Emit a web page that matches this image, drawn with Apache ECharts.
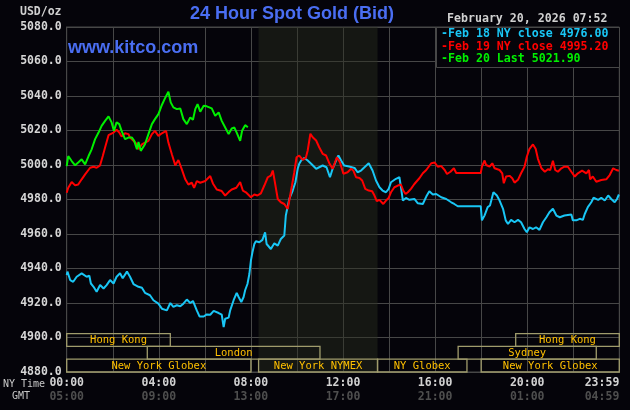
<!DOCTYPE html>
<html>
<head>
<meta charset="utf-8">
<script src="https://cdn.jsdelivr.net/npm/echarts@6/dist/echarts.min.js"></script>
<style>
  html, body { margin: 0; padding: 0; background: #05040a; }
  #chart { width: 630px; height: 410px; }
</style>
</head>
<body>
<div id="chart"></div>
<script>
// series values: [minutes after midnight NY time, price]
const feb18 = [
  [0,4936.2],[2,4938.2],[9,4933.3],[17,4932.3],[26,4935.2],[39,4937.2],[43,4936.2],[52,4935.2],[59,4935.8],[63,4931.3],
  [70,4929.4],[78,4926.5],[87,4930.4],[96,4928.4],[104,4930.4],[113,4933.3],[122,4931.3],[130,4935.2],[139,4937.2],[146,4934.3],
  [157,4938.2],[165,4935.2],[174,4931],[187,4929.4],[196,4928.8],[204,4925.9],[217,4924.5],[226,4921.6],[239,4919.6],[248,4916.7],
  [261,4915.7],[270,4920],[278,4917.7],[287,4918.7],[296,4918.1],[304,4919.6],[313,4922],[322,4920],[329,4921.2],[339,4915.7],
  [346,4912.2],[357,4912.2],[365,4913.4],[374,4913.2],[383,4915.4],[396,4914.2],[404,4913.2],[409,4906],[413,4910.9],[422,4911.5],
  [426,4915.7],[435,4921.6],[443,4925.9],[448,4923.5],[455,4920.6],[461,4923.5],[465,4927.4],[471,4931],[476,4936.8],[480,4944.6],
  [484,4949.4],[489,4954.2],[493,4955.8],[502,4955.2],[510,4956.6],[517,4961],[521,4954.2],[532,4951.3],[541,4954.6],[550,4953.3],
  [558,4957.1],[567,4959.1],[571,4970.7],[580,4980.3],[589,4985.2],[596,4990],[602,4997.8],[606,5000.7],[611,5002.6],[619,5004.1],
  [628,5002.6],[637,5000.7],[650,4997.8],[658,4998.7],[667,4999.7],[677,4998.7],[686,4992.9],[693,4997.8],[702,5002.6],[708,5005.5],
  [715,5002.6],[723,4999.7],[736,4999.1],[750,4998.3],[758,4995.8],[767,4996.8],[776,4998.7],[787,5001],[797,4996.8],[806,4991],
  [815,4987.1],[823,4985.2],[832,4984.2],[839,4986.2],[845,4990],[858,4992],[867,4992.9],[871,4987.1],[876,4979.4],[884,4980.9],
  [893,4979.8],[906,4980.3],[915,4977.8],[928,4977.4],[937,4981.7],[945,4984.8],[954,4982.9],[963,4983.2],[976,4981.3],[989,4980.3],
  [1002,4978.4],[1010,4977.4],[1019,4976.1],[1079,4976.1],[1082,4967.9],[1089,4970.8],[1097,4975.6],[1103,4976.5],[1112,4984.2],[1121,4982.3],
  [1128,4979.4],[1137,4974.6],[1144,4967.9],[1150,4965.8],[1158,4968.2],[1167,4966.8],[1176,4968.2],[1184,4966.8],[1193,4962.9],[1199,4961],
  [1206,4963.9],[1215,4962.9],[1223,4963.9],[1232,4962.4],[1241,4966.8],[1250,4969.7],[1258,4972.6],[1267,4974.6],[1276,4970.7],[1285,4969.7],
  [1297,4970.7],[1315,4971.3],[1319,4967.9],[1328,4967.9],[1337,4968.8],[1345,4968.2],[1350,4971.6],[1358,4975.6],[1367,4978.4],[1373,4981],
  [1385,4979.8],[1393,4981],[1402,4979.4],[1411,4982.3],[1419,4980.3],[1428,4978.4],[1434,4980.3],[1439,4982.9]
];

const feb19 = [
  [0,4983.9],[4,4986.8],[13,4990.1],[22,4988.2],[30,4988.7],[39,4991.7],[48,4994.6],[61,4998.4],[70,4999],[78,4998.4],
  [87,4999.8],[94,5005.2],[100,5010.1],[109,5017.3],[122,5018.8],[130,5020.4],[137,5018.8],[143,5016.5],[152,5018.4],[161,5017.9],
  [165,5015.9],[174,5014],[183,5012],[187,5009.1],[196,5012],[204,5013],[213,5014],[222,5017.9],[230,5019.8],[239,5016.9],
  [248,5018.4],[259,5019.8],[265,5013],[274,5006.2],[283,4999.8],[291,5002.9],[300,4997.5],[309,4991.7],[317,4988.7],[326,4989.7],
  [332,4986.8],[339,4990.7],[348,4989.7],[361,4990.7],[374,4993.6],[381,4989.3],[391,4985.8],[404,4984.9],[413,4982.3],[422,4984.3],
  [430,4985.8],[442,4986.8],[452,4990.1],[459,4985.2],[467,4984.2],[480,4981.3],[489,4982.9],[497,4982.3],[506,4983.6],[515,4988.1],
  [524,4992.9],[532,4993.9],[537,4996.8],[541,4992],[550,4980.3],[558,4978.4],[567,4977.4],[576,4974.6],[580,4979.4],[587,4988.1],
  [593,4995.8],[599,5004.5],[606,5005.5],[615,5003],[623,5004.1],[628,5008.4],[635,5018.1],[641,5016.1],[650,5014.2],[658,5010.3],
  [667,5006.5],[676,5005.5],[685,5000.7],[693,4997.8],[704,5004.5],[712,5001.6],[721,4994.9],[732,4995.8],[741,4997.8],[747,4996.8],
  [754,4992.9],[763,4992.5],[770,4991],[778,4986.2],[787,4985.2],[796,4984.8],[802,4982.3],[808,4979],[815,4979.8],[825,4977.4],
  [832,4979.4],[839,4980.9],[845,4984.2],[854,4987.1],[863,4988.1],[871,4988.7],[877,4985.2],[883,4983.2],[889,4984.2],[897,4986.2],
  [906,4989],[919,4992.3],[928,4995.2],[937,4997.1],[950,5001],[959,5001.4],[967,4999],[976,4999.4],[985,4997.1],[991,4994.8],
  [1000,4996.1],[1009,4998.1],[1015,4995.4],[1079,4995.4],[1082,4999],[1089,5002.6],[1093,5000],[1102,4999],[1109,5001],[1115,4998.1],
  [1128,4997.1],[1135,4995.2],[1139,4989.4],[1145,4993.3],[1154,4993.7],[1161,4992.3],[1167,4989.8],[1176,4991.4],[1184,4995.2],[1193,4999],
  [1199,5004.8],[1206,5009.4],[1215,5011.9],[1222,5009.4],[1228,5003.6],[1237,4998.1],[1246,4996.1],[1254,4997.5],[1260,4997.1],[1267,5002.5],
  [1273,4997.1],[1280,4996.1],[1289,4998.1],[1297,4999],[1306,4999],[1315,4996.1],[1324,4993.3],[1332,4995.2],[1343,4996.7],[1354,4995.2],
  [1361,4997.1],[1364,4991.7],[1371,4993.3],[1380,4990.3],[1393,4991.3],[1406,4991.7],[1415,4994.2],[1424,4998.1],[1432,4997.1],[1439,4996.7]
];

const feb20 = [
  [0,4999.4],[4,5005.2],[13,5002.3],[22,4999.8],[30,5001.4],[39,5003.3],[48,5000.4],[57,5005.2],[65,5009.1],[74,5015],
  [83,5018.8],[91,5022.7],[100,5025.6],[109,5028.2],[113,5028.9],[117,5024.7],[123,5019.8],[130,5024.7],[137,5023.7],[143,5019.8],
  [152,5015],[161,5015.9],[170,5015.9],[176,5014],[183,5009.1],[187,5013.4],[193,5008.2],[204,5012],[213,5017.9],[222,5023.7],
  [230,5026.6],[239,5029.5],[248,5034.8],[256,5038.6],[265,5042.5],[271,5036.3],[278,5033.4],[287,5032.4],[296,5032.8],[304,5026.6],
  [313,5023.7],[322,5027.6],[329,5026.2],[335,5032.4],[341,5035.3],[348,5030.9],[357,5034.4],[365,5034],[378,5032.8],[387,5028.5],
  [396,5030.5],[404,5025.6],[413,5021.7],[422,5017.9],[430,5021.2],[437,5021.7],[443,5018.8],[452,5014],[457,5019.8],[465,5023.1],
  [472,5021.9]
];

const seriesNames = ["Feb 18 NY close", "Feb 19 NY close", "Feb 20 Last"];
const seriesLast = [4976.00, 4995.20, 5021.90];
const seriesColors = ["#19c6f5", "#ff0000", "#00f000"];

// trading sessions: start / end in minutes, row 0 = top
const sessionNames = ["Hong Kong", "Hong Kong", "London", "Sydney", "New York Globex", "New York NYMEX", "NY Globex", "New York Globex"];
const sessionStart = [0, 1170, 210, 1020, 0, 500, 810, 1080];
const sessionEnd = [270, 1440, 660, 1380, 480, 810, 1043, 1440];
const sessionRow = [0, 0, 1, 1, 2, 2, 2, 2];

// shaded pit hours (NYMEX)
const pitHours = [500, 810];

const nyTicks = { 0: "00:00", 240: "04:00", 480: "08:00", 720: "12:00", 960: "16:00", 1200: "20:00", 1440: "23:59" };
const gmtTicks = { 0: "05:00", 240: "09:00", 480: "13:00", 720: "17:00", 960: "21:00", 1200: "01:00", 1440: "04:59" };

const MONO = '"DejaVu Sans Mono", monospace';
const BG = "#05040a";
const GRIDC = "#474747";

const chart = echarts.init(document.getElementById("chart"), null, { renderer: "canvas" });

const sessionData = sessionNames.map((n, i) => [sessionStart[i], sessionEnd[i], sessionRow[i]]);

const lineSeries = [feb18, feb19, feb20].map((d, i) => ({
  name: seriesNames[i],
  type: "line",
  data: d,
  showSymbol: false,
  symbol: "none",
  lineStyle: { color: seriesColors[i], width: 2 },
  itemStyle: { color: seriesColors[i] },
  z: 3 + i,
  silent: true,
}));

// NYMEX pit shading
lineSeries[0].markArea = {
  silent: true,
  itemStyle: { color: "rgba(42,46,32,0.45)" },
  data: [[{ xAxis: pitHours[0] }, { xAxis: pitHours[1] }]],
};

const option = {
  backgroundColor: BG,
  animation: false,
  grid: {
    left: 66.7,
    right: 10.7,
    top: 27,
    bottom: 38,
    show: true,
    borderColor: GRIDC,
    borderWidth: 1,
    backgroundColor: "transparent",
    outerBoundsMode: "none",
  },
  xAxis: {
    type: "value",
    min: 0,
    max: 1440,
    interval: 120,
    axisLine: { show: true, lineStyle: { color: GRIDC } },
    axisTick: { show: false },
    splitLine: { show: true, lineStyle: { color: GRIDC, width: 1 } },
    axisLabel: {
      margin: 4,
      showMaxLabel: true,
      alignMaxLabel: "right",
      formatter: (v) => (nyTicks[v] ? "{t|" + nyTicks[v] + "}\n{g|" + gmtTicks[v] + "}" : ""),
      rich: {
        t: { color: "#d2d2d2", fontFamily: MONO, fontWeight: "bold", fontSize: 11.5, lineHeight: 14 },
        g: { color: "#4e4e4e", fontFamily: MONO, fontWeight: "bold", fontSize: 11.5, lineHeight: 14 },
      },
    },
  },
  yAxis: {
    type: "value",
    min: 4880,
    max: 5080,
    interval: 20,
    axisLine: { show: true, lineStyle: { color: GRIDC } },
    axisTick: { show: false },
    splitLine: { show: true, lineStyle: { color: GRIDC, width: 1 } },
    axisLabel: {
      margin: 5,
      color: "#d6d6d6",
      fontFamily: MONO,
      fontWeight: "bold",
      fontSize: 11.5,
      formatter: (v) => v.toFixed(1),
    },
  },
  series: [
    {
      type: "custom",
      name: "sessions",
      silent: true,
      z: 6,
      data: sessionData,
      encode: { x: [0, 1] },
      renderItem: (params, api) => {
        const s = api.coord([api.value(0), 4880]);
        const e = api.coord([api.value(1), 4880]);
        const h = 12.8;
        const y = s[1] - h * (3 - api.value(2));
        return {
          type: "group",
          children: [
            {
              type: "rect",
              shape: { x: s[0], y: y, width: e[0] - s[0], height: h },
              style: { fill: "none", stroke: "#a09c6c", lineWidth: 1.3 },
            },
            {
              type: "text",
              style: {
                text: sessionNames[params.dataIndex],
                x: (s[0] + e[0]) / 2,
                y: y + h / 2 + 0.5,
                align: "center",
                verticalAlign: "middle",
                fill: "#ffc000",
                font: "10.5px " + MONO,
              },
            },
          ],
        };
      },
    },
    ...lineSeries,
  ],
  graphic: [
    {
      type: "text", left: 190, top: 5, z: 100,
      style: { text: "24 Hour Spot Gold (Bid)", fill: "#4a6ef2", font: 'bold 18px "Liberation Sans", Arial, sans-serif' },
    },
    {
      type: "text", left: 68, top: 39, z: 100,
      style: { text: "www.kitco.com", fill: "#4a6ef2", font: 'bold 18px "Liberation Sans", Arial, sans-serif' },
    },
    {
      type: "text", left: 447, top: 13, z: 100,
      style: { text: "February 20, 2026 07:52", fill: "#d0d0d0", font: "bold 11.6px " + MONO },
    },
    {
      type: "text", left: 20, top: 6, z: 100,
      style: { text: "USD/oz", fill: "#d0d0d0", font: "bold 11.5px " + MONO },
    },
    {
      type: "text", left: 3, top: 379, z: 100,
      style: { text: "NY Time", fill: "#c8c8c8", font: "10px " + MONO },
    },
    {
      type: "text", left: 12, top: 391, z: 100,
      style: { text: "GMT", fill: "#c8c8c8", font: "10px " + MONO },
    },
    {
      type: "rect", left: 436, top: 27, z: 100,
      shape: { width: 183, height: 40 },
      style: { fill: BG, stroke: GRIDC, lineWidth: 1 },
    },
    ...seriesNames.map((n, i) => ({
      type: "text", left: 441, top: 28 + i * 12.7, z: 101,
      style: {
        text: "-" + n + " " + seriesLast[i].toFixed(2),
        fill: seriesColors[i],
        font: "bold 11.6px " + MONO,
      },
    })),
  ],
};

chart.setOption(option);
</script>
</body>
</html>
